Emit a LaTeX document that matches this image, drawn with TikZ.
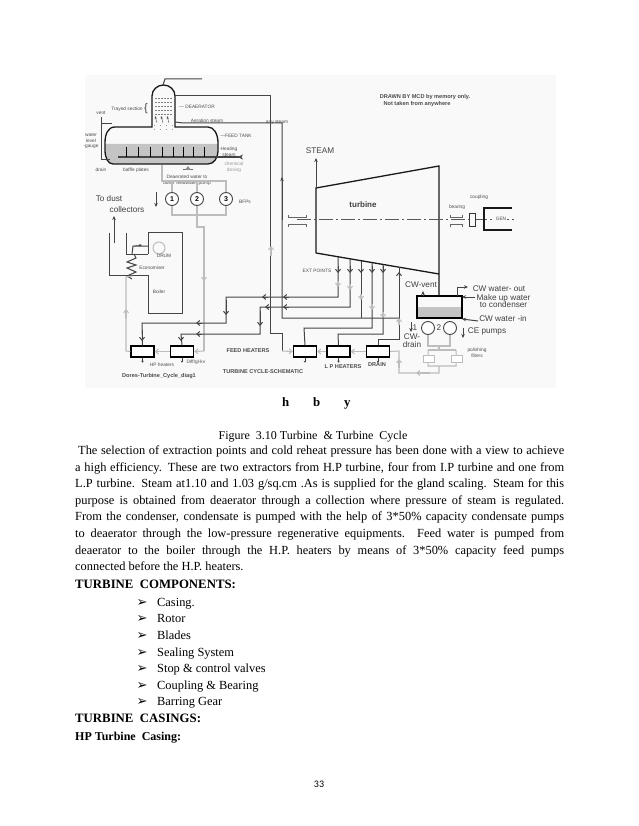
\documentclass[tikz,border=0pt]{standalone}
\usepackage{fontspec}
\setmainfont{Liberation Serif}
\setsansfont{Liberation Sans}
\newfontfamily\bulletfont{DejaVu Sans}
\newfontfamily\pagefont{Carlito}
\usepackage{xcolor}
\usetikzlibrary{arrows.meta,positioning}
\definecolor{pipedark}{HTML}{454545}
\definecolor{pipelight}{HTML}{BDBDBD}
\definecolor{waterfill}{HTML}{C4C4C4}
\definecolor{figback}{HTML}{F9F9F9}
\newcommand{\tinylab}{\fontsize{4.8}{5.6}\selectfont\sffamily}
\newcommand{\boldlab}{\fontsize{5.6}{6}\selectfont\sffamily\bfseries}
\newcommand{\smalllab}{\fontsize{8.2}{7.8}\selectfont\sffamily}
\begin{document}
\begin{tikzpicture}[x=1pt,y=-1pt,
  wall/.style={draw=black!90, line width=1.3pt},
  pipe/.style={draw=pipedark, line width=1pt},
  lpipe/.style={draw=pipelight, line width=1.05pt},
  tipd/.style={pipe,-{Stealth[length=4pt,width=3.5pt]}},
  darr/.style={pipe,-{Straight Barb[length=3pt,width=5pt]}},
  larr/.style={lpipe,-{Straight Barb[length=3pt,width=5pt]}},
  heater/.style={draw=black, line width=1.4pt, fill=white, minimum width=23pt, minimum height=11pt, inner sep=0pt},
  pump/.style={circle, draw=pipedark, line width=0.9pt, fill=white, minimum size=13pt, inner sep=0pt, font=\fontsize{7}{7}\selectfont\sffamily\bfseries},
  filt/.style={draw=pipelight, line width=0.9pt, fill=white, minimum width=11pt, minimum height=7pt, inner sep=0pt},
  lab/.style={text=black!70, inner sep=0pt, font=\tinylab, align=center},
  blab/.style={text=black!75, inner sep=0pt, font=\smalllab, align=center},
  para/.style={inner sep=0pt, anchor=base west, font=\fontsize{12.4}{16.6}\selectfont},
  head/.style={inner sep=0pt, anchor=base west, font=\fontsize{12.8}{16.6}\selectfont\bfseries}]
\useasboundingbox (0,0) rectangle (638,826);
\fill[white] (0,0) rectangle (638,826);
\fill[figback] (85,75) rectangle (556,388);

% deaerator and tank
\fill[waterfill] (105,144) -- (218,144) -- (218,150) .. controls (218,158) and (214,164) .. (208,164) -- (113,164) .. controls (108,164) and (105,158) .. (105,150) -- cycle;
\draw[wall] (152,127) -- (152,96) arc (180:360:11.5 and 11) -- (175,127) -- (208,127)
  .. controls (214,127) and (218,134) .. (218,143) -- (218,150)
  .. controls (218,158) and (214,164) .. (208,164) -- (113,164)
  .. controls (108,164) and (105,158) .. (105,150) -- (105,143)
  .. controls (105,134) and (108,127) .. (115,127) -- cycle;
\draw[pipedark, line width=1.1pt, -{Stealth[length=5pt,width=5pt,reversed]}] (118,157) -- (243,157);
\foreach \x in {126,138,150,162,173,183,193,204} \draw[black, line width=1pt] (\x,147) -- (\x,157);
\foreach \y in {98,102,106,110,114} \draw[black!50, dash pattern=on 1.5pt off 1.5pt] (155,\y) -- (172,\y);
\foreach \x in {157,163,169} \draw[-{Stealth[length=3pt]}, black!70] (\x,123) -- (\x-2,116);
\foreach \x in {154,160,166,172} \draw[black!40, dash pattern=on 1pt off 3pt] (\x,125) -- (\x,131);
\draw[pipe] (163,85) -- (165,79) -- (202,79);

% gauge at the left of the tank
\coordinate (gtop) at (101,117);
\coordinate (gbot) at (101,160);
\draw[pipe] (gtop) -- (gbot) -- (110,160);
\draw[pipe] (101,124) -- (112,124);
\node[lab] (vent) at (101,113) {vent};
\node[lab] (drain) at (101,170) {drain};
\node[lab] (gauge) at (91,141) {water\\level\\-gauge};
\node[lab] (tray) at (127,109) {Trayed section};
\node[blab] (brace) at (146,109) {\fontsize{11}{11}\selectfont\{};
\node[lab] (deaer) at (197,107) {— DEAERATOR};
\node[lab] (aerate) at (207,121) {Aeration steam};
\node[lab] (anysteam) at (277,122) {any steam};
\node[lab] (feedtank) at (236,136) {—FEED TANK};
\node[lab] (heatst) at (229,152) {Heating\\steam};
\node[lab, text=black!40] (dosing) at (234,167) {chemical\\dosing};
\node[lab] (plates) at (136,170) {baffle plates};
\draw[black!60, line width=1pt] (183,170) -- (193,170);
\fill[black!45] (185,170) -- (188,166) -- (191,170) -- cycle;
\node[lab] (deawater) at (187,180) {Deaerated water to\\boiler feedwater pump};
\node[lab] (bfps) at (245,202) {BFPs};

% steam and feed lines
\coordinate (dearout) at (175,96);
\coordinate (aerin) at (175,122);
\draw[pipe] (dearout) -- (270,96) -- (270,333) -- (282,333) -- (282,351);
\draw[pipe] (aerin) -- (183,123) -- (282,123) -- (282,318) -- (399,318);
\draw[tipd] (282,220) -- (282,177);
\draw[larr] (271,256) -- (271,246);

% feed pumps
\node[pump] (bfp1) at (172,199) {1};
\node[pump] (bfp2) at (197,199) {2};
\node[pump] (bfp3) at (226,199) {3};
\draw[lpipe] (162,165) -- (162,181) -- (226,181) -- (bfp3);
\draw[lpipe] (172,181) -- (bfp1);
\draw[lpipe] (197,181) -- (bfp2);
\draw[lpipe] (bfp1) -- (172,215) -- (226,215) -- (bfp3);
\draw[lpipe] (bfp2) -- (197,227) -- (204,227) -- (204,351);
\draw[larr] (204,270) -- (204,281);
\draw[tipd] (156,192) -- (156,207);
\node[blab] (dust1) at (109,199) {To dust};
\node[blab] (dust2) at (127,209.5) {collectors};

% boiler
\draw[pipe] (148,254) -- (148,232) -- (182,232) -- (182,313) -- (148,313) -- (148,275) -- (109,275) -- (109,233);
\draw[tipd] (114,243) -- (114,216);
\draw[pipe] (126,233) -- (126,254) -- (148,254);
\draw[pipe] (132,254) -- (133,246) -- (148,246);
\draw[-{Stealth[length=3pt]}, black!80] (134,246) -- (142,245);
\node[circle, draw=pipelight, line width=1pt, minimum size=12pt, inner sep=0pt] (drum) at (159,248) {};
\draw[pipedark, line width=1pt] (134,254) -- (136,258) -- (127,262) -- (136,265) -- (127,268) -- (136,272) -- (127,276) -- (132,279);
\node[lab] (drumlab) at (164,256) {DRUM};
\node[lab] (econ) at (152,268) {Economiser};
\node[lab] (boiler) at (159,292) {Boiler};

% heaters
\node[heater] (hp1) at (142.5,351.5) {};
\node[heater] (hp2) at (182,351.5) {};
\node[heater] (lp1) at (305,351.5) {};
\node[heater] (lp2) at (338.5,351.5) {};
\node[heater] (dr) at (378,351.5) {};
\draw[lpipe] (hp1.west) -- (126,351) -- (126,277) -- (132,276);
\draw[larr] (126,318) -- (126,309);
\draw[larr] (hp2.west) -- (hp1.east);
\draw[larr] (204,351) -- (hp2.east);
\draw[larr] (lp2.west) -- (lp1.east);
\draw[larr] (dr.west) -- (lp2.east);
\draw[larr] (282,351) -- (lp1.west);
\foreach \n in {hp1,hp2,lp1,lp2,dr} \draw[pipe,-{Stealth[length=2pt,width=2.5pt]}] (\n.south) -- ++(0,5);

% turbine
\draw[wall] (316,253) -- (316,188) -- (439,166) -- (439,296);
\draw[wall] (316,253) -- (439,274);
\draw[tipd] (316,188) -- (316,158);
\node[blab] (steam) at (320,151) {STEAM};
\node[font=\fontsize{8}{8}\selectfont\sffamily\bfseries, text=black!75, inner sep=0pt] (turb) at (363,205) {turbine};
\draw[black!65, line width=1pt, dash pattern=on 14pt off 3pt on 2pt off 3pt] (297,220) -- (517,220);

% extraction lines
\coordinate (ex1) at (338,257);
\coordinate (ex2) at (350,259);
\coordinate (ex3) at (361,261);
\coordinate (ex4) at (372,263);
\coordinate (ex5) at (383,265);
\coordinate (ex6) at (399,267);
\draw[pipe] (ex1) -- (338,297) -- (226,297) -- (226,323) -- (142,323) -- (hp1.north);
\draw[pipe] (ex2) -- (350,307) -- (260,307) -- (260,334) -- (181,334) -- (hp2.north);
\draw[pipe] (ex3) -- (361,318);
\draw[pipe] (ex4) -- (372,328) -- (304,328) -- (lp1.north);
\draw[pipe] (ex5) -- (383,334) -- (338,334) -- (lp2.north);
\draw[pipe] (ex6) -- (399,339) -- (378,339) -- (dr.north);
\foreach \x/\y in {338/270,350/270,361/270,372/270,383/270} \draw[darr] (\x,\y-4) -- (\x,\y+3);
\foreach \x/\y in {338/287,350/290,361/300,372/310,383/318} \draw[larr] (\x,\y-6) -- (\x,\y);
\draw[darr] (399,282) -- (399,272);
\draw[larr] (399,325) -- (399,318);
\draw[darr] (226,300) -- (226,315);
\draw[darr] (260,311) -- (260,326);
\draw[darr] (142,330) -- (142,341);
\draw[darr] (181,338) -- (181,341);
\foreach \x/\y in {283/297,262/297,283/307,265/307,196/323,196/334} \draw[darr] (\x+6,\y) -- (\x,\y);
\node[lab] (extpts) at (317,271) {EXT POINTS};
\node[lab, font=\boldlab] (feedhtr) at (248,351) {FEED HEATERS};
\node[lab, font=\boldlab] (schem) at (263,372) {TURBINE CYCLE-SCHEMATIC};
\node[lab, font=\boldlab] (diag) at (159,376) {Dores-Turbine\_Cycle\_diag1};
\node[lab] (hphtr) at (162,365) {HP heaters};
\node[lab] (diffgl) at (196,362) {Diff/gl-kv};
\node[lab, font=\boldlab] (lphtr) at (343,367) {L P HEATERS};
\node[lab, font=\boldlab] (drlab) at (377,365) {DRAIN};

% bearings, coupling, generator
\foreach \x/\w in {288/18,450/12} {
  \draw[black!60, line width=0.7pt] (\x,215) -- (\x,217) -- (\x+\w,217) -- (\x+\w,215);
  \draw[black!60, line width=0.7pt] (\x,227) -- (\x,224) -- (\x+\w,224) -- (\x+\w,227);
}
\node[lab] (bearing) at (457,207) {bearing};
\node[lab] (coupling) at (479,197) {coupling};
\node[draw=black!80, fill=figback, line width=0.9pt, minimum width=6pt, minimum height=13pt, inner sep=0pt] (cpl) at (472,219.5) {};
\draw[wall] (512,208) -- (484,208) -- (484,230) -- (512,230);
\node[lab, fill=figback, inner sep=0.5pt] (gen) at (501,219) {GEN};
\node[lab, font=\boldlab] (drawn1) at (425,97) {DRAWN BY MCD by memory only.};
\node[lab, font=\boldlab] (drawn2) at (417,104) {Not taken from anywhere};

% condenser
\fill[waterfill] (417,307) rectangle (462,318);
\node[draw=black, line width=1.3pt, minimum width=45pt, minimum height=22pt, inner sep=0pt] (cond) at (439.5,307) {};
\draw[tipd] (423,296) -- (423,291);
\node[blab] (cwvent) at (421,285) {CW-vent};
\draw[tipd] (457,296) -- (457,287) -- (468,287);
\node[blab] (cwout) at (499,289) {CW water- out};
\draw[tipd] (475,297) -- (462,297);
\node[blab] (makeup) at (503.5,301) {Make up water\\to condenser};
\draw[tipd] (478,321) -- (462,319);
\node[blab] (cwin) at (503,319) {CW water -in};
\node[pump] (ce1) at (428,328) {};
\node[pump] (ce2) at (450,328) {};
\node[blab] (ce1n) at (415,328) {1};
\node[blab] (ce2n) at (439,328) {2};
\draw[tipd] (411,322) -- (411,332);
\node[blab] (cwdrain) at (412,341) {CW-\\drain};
\draw[tipd] (463,328) -- (463,338);
\node[blab] (cepumps) at (487,331) {CE pumps};
\draw[lpipe] (ce1) -- (428,346) -- (450,346) -- (ce2);
\node[filt] (f1) at (428.5,358.5) {};
\node[filt] (f2) at (456.5,358.5) {};
\draw[lpipe] (439,346) -- (439,350);
\draw[lpipe] (428,350) -- (456,350);
\draw[lpipe] (428,350) -- (f1);
\draw[lpipe] (456,350) -- (f2);
\draw[lpipe] (f1) -- (428,366) -- (456,366) -- (f2);
\draw[lpipe] (439,366) -- (439,373) -- (399,373) -- (399,351) -- (dr.east);
\draw[larr] (430,373) -- (416,373);
\draw[larr] (399,368) -- (399,359);
\node[lab] (polish) at (477,353) {polishing\\filters};

% letters under the figure
\node[head] (hh) at (282,406) {h};
\node[head] (hb) at (313,406) {b};
\node[head] (hy) at (344,406) {y};

% page text
\node[para, anchor=base, font=\fontsize{12}{16}\selectfont] (cap) at (313,439) {Figure\hspace{3pt} 3.10 Turbine\hspace{3pt} \& Turbine\hspace{3pt} Cycle};
\node[para, anchor=north west, text width=489pt, align=justify] (bodytext) at (75,445.5) {%
\hspace*{3pt}The selection of extraction points and cold reheat pressure has been done with a view to achieve\linebreak
a high efficiency. These are two extractors from H.P turbine, four from I.P turbine and one from\linebreak
L.P turbine. Steam at1.10 and 1.03 g/sq.cm .As is supplied for the gland scaling. Steam for this\linebreak
purpose is obtained from deaerator through a collection where pressure of steam is regulated.\linebreak
From the condenser, condensate is pumped with the help of 3*50\% capacity condensate pumps\linebreak
to deaerator through the low-pressure regenerative equipments. Feed water is pumped from\linebreak
deaerator to the boiler through the H.P. heaters by means of 3*50\% capacity feed pumps\linebreak
connected before the H.P. heaters.};
\node[head] (comp) at (75,588) {TURBINE\ \ COMPONENTS:};
\foreach \i/\y/\t in {1/606/Casing.,2/622/Rotor,3/639/Blades,4/656/Sealing System,5/672/Stop \& control valves,6/689/Coupling \& Bearing,7/705/Barring Gear} {
  \node[inner sep=0pt, anchor=base, font=\bulletfont\fontsize{13}{13}\selectfont] (bul\i) at (142,\y) {➢};
  \node[para] (item\i) at (157,\y) {\t};
}
\node[head] (casings) at (75,722) {TURBINE\ \ CASINGS:};
\node[head, font=\fontsize{12}{14}\selectfont\bfseries] (hpcase) at (75,740) {HP Turbine\ \ Casing:};
\node[inner sep=0pt, font=\pagefont\fontsize{10}{10}\selectfont] (pageno) at (319,784) {33};
\end{tikzpicture}
\end{document}
